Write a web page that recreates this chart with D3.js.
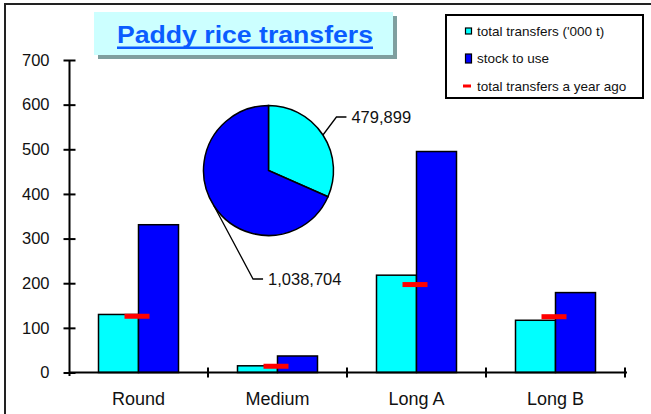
<!DOCTYPE html>
<html>
<head>
<meta charset="utf-8">
<script src="https://cdn.jsdelivr.net/npm/d3@7"></script>
<style>
  body { margin: 0; background: white; }
  svg { display: block; font-family: "Liberation Sans", Arial, sans-serif; }
</style>
</head>
<body>
<div id="container"></div>
<script>
let w = 651;
let h = 414;

// data
let categories = ["Round", "Medium", "Long A", "Long B"];
let totalTransfers = [130, 15, 218, 117];
let stockToUse = [331, 37, 495, 179];
let yearAgo = [126, 14, 197, 125];
let pieLabels = ["479,899", "1,038,704"];
let pieValues = [479899, 1038704];
let yTicks = [0, 100, 200, 300, 400, 500, 600, 700];
let legendLabels = ["total transfers ('000 t)", "stock to use", "total transfers a year ago"];

let cyan = "#00ffff";
let blue = "#0000ff";
let red = "#ff0000";

let viz = d3.select("#container").append("svg")
    .attr("width", w)
    .attr("height", h);

// outer frame
viz.append("rect")
  .attr("x", 5).attr("y", 4)
  .attr("width", 700).attr("height", 500)
  .attr("fill", "white")
  .attr("stroke", "#222")
  .attr("stroke-width", 2);

// SCALES
let yScale = d3.scaleLinear().domain([0, 700]).range([372.5, 60]);
let xScale = d3.scaleBand().domain(categories).range([69, 625]).padding(0);
let bw = xScale.bandwidth();
let barW = 40;
let xSub = d3.scaleBand().domain(["total", "stock"]).range([bw / 2 - barW, bw / 2 + barW]);

let rows = categories.map(function(c, i){
  return { cat: c, total: totalTransfers[i], stock: stockToUse[i], ago: yearAgo[i] };
});

// BARS
let groups = viz.selectAll(".group").data(rows).enter()
  .append("g")
    .attr("class", "group")
    .attr("transform", function(d){ return "translate(" + xScale(d.cat) + ",0)"; });

groups.append("rect")
  .attr("x", xSub("total"))
  .attr("y", function(d){ return yScale(d.total); })
  .attr("width", xSub.bandwidth())
  .attr("height", function(d){ return yScale(0) - yScale(d.total); })
  .attr("fill", cyan)
  .attr("stroke", "black")
  .attr("stroke-width", 1.5);

groups.append("rect")
  .attr("x", xSub("stock"))
  .attr("y", function(d){ return yScale(d.stock); })
  .attr("width", xSub.bandwidth())
  .attr("height", function(d){ return yScale(0) - yScale(d.stock); })
  .attr("fill", blue)
  .attr("stroke", "black")
  .attr("stroke-width", 1.5);

// year-ago markers
groups.append("rect")
  .attr("x", bw / 2 - 14)
  .attr("y", function(d){ return yScale(d.ago) - 2.5; })
  .attr("width", 25)
  .attr("height", 5)
  .attr("fill", red);

// Y AXIS
let yAxis = d3.axisLeft(yScale).tickValues(yTicks).tickSize(12).tickSizeOuter(0).tickPadding(8);
let yG = viz.append("g")
  .attr("transform", "translate(69.5,0)")
  .call(yAxis);
yG.select(".domain").attr("stroke", "black").attr("stroke-width", 2).attr("d", "M0,60V376");
yG.selectAll(".tick line").attr("transform", "translate(6,0)").attr("stroke", "black").attr("stroke-width", 2);
yG.selectAll(".tick text")
  .attr("fill", "#111")
  .style("font-size", "16.5px")
  .style("font-family", "Liberation Sans, Arial, sans-serif");

// X AXIS
let xAxis = d3.axisBottom(xScale).tickSize(0).tickPadding(20);
let xG = viz.append("g")
  .attr("transform", "translate(0," + yScale(0) + ")")
  .call(xAxis);
xG.select(".domain").attr("stroke", "black").attr("stroke-width", 2).attr("d", "M69,0H627");
xG.selectAll(".tick text")
  .attr("fill", "#111")
  .style("font-size", "18px")
  .style("font-family", "Liberation Sans, Arial, sans-serif");

// category boundary ticks
let bounds = categories.map(function(c){ return xScale(c); }).concat([xScale(categories[categories.length - 1]) + bw]);
xG.selectAll(".bound").data(bounds.slice(1)).enter()
  .append("line")
    .attr("class", "bound")
    .attr("x1", function(d){ return d; })
    .attr("x2", function(d){ return d; })
    .attr("y1", -5)
    .attr("y2", 5)
    .attr("stroke", "black")
    .attr("stroke-width", 2);

// PIE
let pieCx = 268.5, pieCy = 170.5, pieR = 65;
let pie = d3.pie().sort(null).value(function(d){ return d; });
let arc = d3.arc().innerRadius(0).outerRadius(pieR);
let pieData = pie(pieValues);
let pieG = viz.append("g").attr("transform", "translate(" + pieCx + "," + pieCy + ")");
pieG.selectAll("path").data(pieData).enter()
  .append("path")
    .attr("d", arc)
    .attr("fill", function(d, i){ return i == 0 ? cyan : blue; })
    .attr("stroke", "black")
    .attr("stroke-width", 1.5);

// leader lines + labels
let leaderOffsets = [[13.5, -18], [39, 73]];
pieData.forEach(function(d, i){
  let a = (d.startAngle + d.endAngle) / 2;
  let px = Math.sin(a) * pieR;
  let py = -Math.cos(a) * pieR;
  let ex = px + leaderOffsets[i][0];
  let ey = py + leaderOffsets[i][1];
  pieG.append("path")
    .attr("d", "M" + px + "," + py + "L" + ex + "," + ey + "H" + (ex + 10))
    .attr("fill", "none")
    .attr("stroke", "black")
    .attr("stroke-width", 1.3);
  pieG.append("text")
    .attr("x", ex + 15)
    .attr("y", ey + 5.5)
    .attr("fill", "#111")
    .style("font-size", "16.5px")
    .text(pieLabels[i]);
});

// TITLE
viz.append("rect")
  .attr("x", 98).attr("y", 16)
  .attr("width", 299).attr("height", 43)
  .attr("fill", "#7f9f9f");
viz.append("rect")
  .attr("x", 94).attr("y", 12)
  .attr("width", 299).attr("height", 43)
  .attr("fill", "#ccffff");
viz.append("text")
  .attr("x", 117)
  .attr("y", 43)
  .attr("textLength", 256)
  .attr("lengthAdjust", "spacingAndGlyphs")
  .attr("fill", "#0a5cff")
  .style("font-size", "24px")
  .style("font-weight", "bold")
  .text("Paddy rice transfers");
viz.append("rect")
  .attr("x", 117).attr("y", 46.5)
  .attr("width", 256).attr("height", 2.5)
  .attr("fill", "#0a5cff");

// LEGEND
viz.append("rect")
  .attr("x", 446).attr("y", 15)
  .attr("width", 197).attr("height", 83)
  .attr("fill", "white")
  .attr("stroke", "black")
  .attr("stroke-width", 2);

let legendY = [31, 58.5, 86];
let lg = viz.selectAll(".legend").data(legendLabels).enter()
  .append("g")
    .attr("class", "legend")
    .attr("transform", function(d, i){ return "translate(0," + legendY[i] + ")"; });

lg.append("rect")
  .attr("x", function(d, i){ return i == 2 ? 463 : 465.5; })
  .attr("y", function(d, i){ return i == 0 ? -3 : (i == 1 ? -4.5 : -1.5); })
  .attr("width", function(d, i){ return i == 2 ? 8 : 6; })
  .attr("height", function(d, i){ return i == 0 ? 6 : (i == 1 ? 9 : 3); })
  .attr("fill", function(d, i){ return [cyan, blue, red][i]; })
  .attr("stroke", function(d, i){ return i == 2 ? "none" : "black"; })
  .attr("stroke-width", 1.2);

lg.append("text")
  .attr("x", 477)
  .attr("y", 4.5)
  .attr("fill", "#111")
  .style("font-size", "13.5px")
  .text(function(d){ return d; });
</script>
</body>
</html>
